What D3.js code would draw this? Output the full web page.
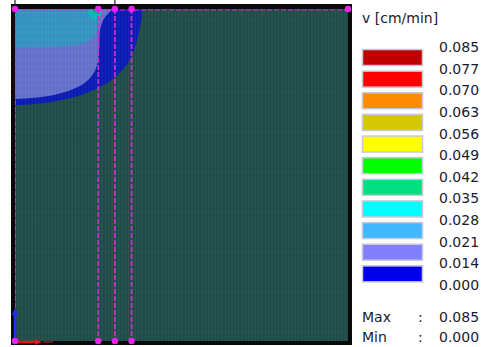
<!DOCTYPE html>
<html><head><meta charset="utf-8">
<script src="https://cdn.jsdelivr.net/npm/d3@7"></script>
<style>html,body{margin:0;padding:0;background:#fff;}svg{display:block;}</style>
</head><body><svg id="c" width="484" height="347"></svg>
<script>
// ---------- data ----------
const legendTitle = "v [cm/min]";
const legendLabels = ["0.085","0.077","0.070","0.063","0.056","0.049","0.042","0.035","0.028","0.021","0.014","0.000"];
const legendColors = ["#c00000","#ff0000","#ff8c00","#d4c800","#ffff00","#00ff00","#00e080","#00ffff","#40b8ff","#8080ff","#0000ee"];
const maxValue = "0.085", minValue = "0.000";
// contour band boundaries (domain units, x across, y = depth), from top edge to left edge
const band000 = [[38.2,0],[38,3],[37,8],[35.5,13],[33,17.5],[29.5,21],[25.5,23.5],[20,25.8],[12,27.8],[5,28.7],[0,29]];
const band014 = [[29.5,0],[27,2.5],[25.6,6],[25.3,12],[24.6,17],[22.8,20.5],[19.5,23.2],[12,25.8],[5,26.8],[0,27.1]];
const band021 = [[25.8,0],[25.4,4],[24,8],[20,10.5],[12,11.3],[0,11.5]];
const band028 = [[26.3,0],[25.5,2.3],[24,3.2],[22.3,2],[21.5,0]];
const band035 = [[25.6,0],[24.8,1.4],[23.6,1],[23.2,0]];
const nodeX = [0,25,30,35];
const domainX = [0,100], domainY = [0,100];

// ---------- drawing ----------
const svg = d3.select("#c");
const L = 15, R = 348, T = 9, B = 341;
const bg = "#1f4e49";
const x = d3.scaleLinear().domain(domainX).range([L,R]);
const y = d3.scaleLinear().domain(domainY).range([T,B]);

// frame
svg.append("rect").attr("x",11).attr("y",4).attr("width",341).attr("height",341).attr("fill","#0a0a0a");
svg.append("rect").attr("x",L).attr("y",T).attr("width",R-L).attr("height",B-T).attr("fill",bg);
svg.append("clipPath").attr("id","cp").append("rect").attr("x",L).attr("y",T).attr("width",R-L).attr("height",B-T);
const g = svg.append("g").attr("clip-path","url(#cp)");

const line = d3.line().x(d=>x(d[0])).y(d=>y(d[1])).curve(d3.curveCatmullRom);
function bandPath(pts){
  return `M${x(0)},${y(0)}L` + line(pts).slice(1) + "Z";
}
const bands = [[band000,10,0.66],[band014,9,0.72],[band021,8,0.66],[band028,7,0.6],[band035,6,0.65]];
bands.forEach(([pts,ci,op])=>{
  g.append("path").attr("d",bandPath(pts)).attr("fill",d3.interpolateRgb(bg,legendColors[ci])(op));
});

// mesh lines
const meshX = d3.range(domainX[0], domainX[1], 1);
g.selectAll("line.mesh").data(meshX).join("line").attr("class","mesh")
  .attr("x1",d=>x(d)+0.5).attr("x2",d=>x(d)+0.5).attr("y1",T).attr("y2",B)
  .attr("stroke","#ffffff").attr("stroke-opacity",0.06).attr("stroke-width",1);
const meshY = d3.range(domainY[0], domainY[1], 2);
g.selectAll("line.meshy").data(meshY).join("line").attr("class","meshy")
  .attr("y1",d=>y(d)+0.5).attr("y2",d=>y(d)+0.5).attr("x1",L).attr("x2",R)
  .attr("stroke","#000").attr("stroke-opacity",0.05);

// magenta support lines
const mag = "#c830c8";
g.selectAll("line.node").data(nodeX).join("line").attr("class","node")
  .attr("x1",d=>x(d)).attr("x2",d=>x(d)).attr("y1",T).attr("y2",B)
  .attr("stroke",mag).attr("stroke-width",1.8).attr("stroke-dasharray","5,2");
g.append("line").attr("x1",x(0)).attr("x2",x(100)).attr("y1",T+1).attr("y2",T+1)
  .attr("stroke",mag).attr("stroke-width",1.6).attr("stroke-dasharray","5,2").attr("stroke-opacity",0.7);

// axes arrows
svg.append("line").attr("x1",x(0)).attr("y1",B+1).attr("x2",x(0)).attr("y2",B-30).attr("stroke","#2030ff").attr("stroke-width",2.5);
svg.append("path").attr("d",`M${x(0)-3},${B-26}L${x(0)},${B-33}L${x(0)+3},${B-26}Z`).attr("fill","#2030ff");
svg.append("line").attr("x1",x(0)).attr("y1",B+1).attr("x2",x(0)+22).attr("y2",B+1).attr("stroke","#e01818").attr("stroke-width",2.5);
svg.append("path").attr("d",`M${x(0)+20},${B-2}L${x(0)+27},${B+1}L${x(0)+20},${B+4}Z`).attr("fill","#e01818");
svg.append("line").attr("x1",x(0)+28).attr("y1",B+1).attr("x2",x(0)+38).attr("y2",B+1).attr("stroke","#6a1a1a").attr("stroke-width",2);

// node dots
const dots = nodeX.map(v=>[v,0]).concat(nodeX.map(v=>[v,100])).concat([[100,0]]);
svg.selectAll("circle.nd").data(dots).join("circle").attr("class","nd")
  .attr("cx",d=>x(d[0])).attr("cy",d=>y(d[1])).attr("r",3.2).attr("fill","#ee22ee");

// small marks above frame
[0,30].forEach(v=>{
  svg.append("line").attr("x1",x(v)).attr("x2",x(v)).attr("y1",0).attr("y2",4).attr("stroke","#222").attr("stroke-width",1.2);
});

// ---------- legend ----------
const font = "DejaVu Sans, Verdana, sans-serif";
const tc = "#1a1a30";
svg.append("text").attr("x",362).attr("y",23).attr("font-family",font).attr("font-size",14).attr("fill",tc).text(legendTitle);
const ly = d3.scaleLinear().domain([0,legendLabels.length-1]).range([47,285]);
svg.selectAll("rect.sw").data(legendColors).join("rect").attr("class","sw")
  .attr("x",362.5).attr("y",(d,i)=>ly(i)+2.5).attr("width",60).attr("height",16)
  .attr("fill",d=>d).attr("stroke","#c8c8d8").attr("stroke-width",1.5);
svg.selectAll("text.lb").data(legendLabels).join("text").attr("class","lb")
  .attr("x",439).attr("y",(d,i)=>ly(i)+5).attr("font-family",font).attr("font-size",14).attr("fill",tc).text(d=>d);
[["Max",maxValue,317],["Min",minValue,337]].forEach(([k,v,yy])=>{
  svg.append("text").attr("x",362).attr("y",yy+5).attr("font-family",font).attr("font-size",14).attr("fill",tc).text(k);
  svg.append("text").attr("x",418).attr("y",yy+5).attr("font-family",font).attr("font-size",14).attr("fill",tc).text(":");
  svg.append("text").attr("x",439).attr("y",yy+5).attr("font-family",font).attr("font-size",14).attr("fill",tc).text(v);
});
</script></body></html>
